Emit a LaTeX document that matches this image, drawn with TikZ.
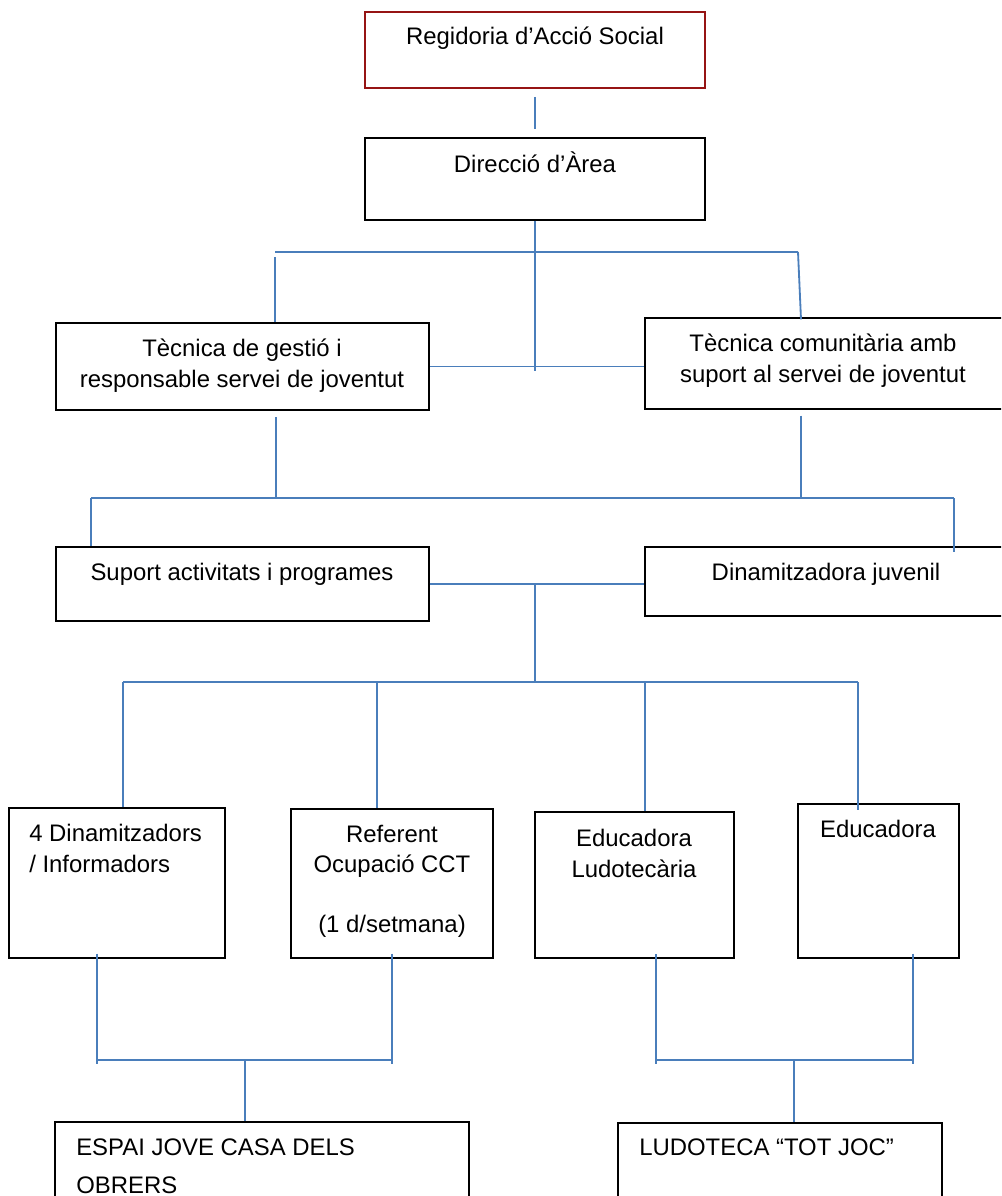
\documentclass[tikz,border=0pt]{standalone}
\usepackage{fontspec}
\setmainfont{Liberation Sans}
\usetikzlibrary{fit,calc}
\definecolor{linkblue}{RGB}{74,126,187}
\definecolor{boxred}{RGB}{150,20,20}

\begin{document}
\begin{tikzpicture}[x=0.025cm,y=-0.025cm,
    box/.style={rectangle,draw=black,line width=1pt,inner sep=0pt},
    thick box/.style={box,line width=2pt},
    link/.style={draw=linkblue,line width=1.3pt},
    lbl/.style={font=\fontsize{17}{21.5}\selectfont,inner sep=0pt,anchor=base,align=center}]
    \useasboundingbox (0,0) rectangle (1001,1196);
    \clip (0,0) rectangle (1001,1196);

    % boxes
    \node[box,draw=boxred,line width=1.3pt,fit={(365,12) (705,88)}] (regidoria) {};
    \node[box,fit={(365,138) (705,220)}] (direccio) {};
    \node[thick box,fit={(56,323) (429,410)}] (gestio) {};
    \node[box,fit={(645,318) (1010,409)}] (comunitaria) {};
    \node[box,fit={(56,547) (429,621)}] (suport) {};
    \node[thick box,fit={(645,547) (1010,616)}] (dinamitzadora) {};
    \node[box,fit={(9,808) (225,958)}] (dinamitzadors) {};
    \node[box,fit={(291,809) (493,958)}] (referent) {};
    \node[thick box,fit={(535,812) (734,958)}] (ludotecaria) {};
    \node[box,fit={(798,804) (959,958)}] (educadora) {};
    \node[box,fit={(55,1122) (469,1230)}] (espai) {};
    \node[box,fit={(618,1123) (942,1230)}] (ludoteca) {};

    % texts (base = last line)
    \node[lbl] (regidoria-t) at (535,45) {Regidoria d’Acció Social};
    \node[lbl] (direccio-t) at (535,172) {Direcció d’Àrea};
    \node[lbl] (gestio-t) at (242,387) {Tècnica de gestió i\\responsable servei de joventut};
    \node[lbl] (comunitaria-t) at (823,382) {Tècnica comunitària amb\\suport al servei de joventut};
    \node[lbl] (suport-t) at (242,580) {Suport activitats i programes};
    \node[lbl] (dinamitzadora-t) at (826,580) {Dinamitzadora juvenil};
    \node[lbl,align=left,anchor=base west] (dinamitzadors-t) at (29,872) {4 Dinamitzadors\\/ Informadors};
    \node[lbl] (referent-t) at (392,932) {Referent\\Ocupació CCT\\[0.73cm](1 d/setmana)};
    \node[lbl] (ludotecaria-t) at (634,877) {Educadora\\Ludotecària};
    \node[lbl] (educadora-t) at (878,837) {Educadora};
    \node[lbl,align=left,anchor=base west,font=\fontsize{17}{27}\selectfont] (espai-t) at (76,1193) {ESPAI JOVE CASA DELS\\OBRERS};
    \node[lbl,anchor=base west] (ludoteca-t) at (639,1155) {LUDOTECA “TOT JOC”};

    % junctions
    \coordinate (busA-l) at (275,252);
    \coordinate (busA-r) at (798,252);
    \coordinate (busB-l) at (91,498);
    \coordinate (busB-g) at (276,498);
    \coordinate (busB-m) at (801,498);
    \coordinate (busB-r) at (954,498);
    \coordinate (busC) at (535,682);
    \coordinate (busC-a) at (123,682);
    \coordinate (busC-b) at (377,682);
    \coordinate (busC-c) at (645,682);
    \coordinate (busC-d) at (858,682);
    \coordinate (busD-l) at (97,1060);
    \coordinate (busD) at (245,1060);
    \coordinate (busD-r) at (392,1060);
    \coordinate (busE-l) at (656,1060);
    \coordinate (busE) at (794,1060);
    \coordinate (busE-r) at (913,1060);

    % connectors
    \draw[link,shorten <=0.2cm,shorten >=0.2cm] (regidoria) -- (direccio);
    \draw[link] (direccio) -- ($(direccio.south |- gestio.east)+(0,4)$);
    \draw[link] (busA-l) -- (busA-r);
    \draw[link] ($(busA-l)+(0,5)$) -- (busA-l |- gestio.north);
    \draw[link] (busA-r) -- ($(busA-r |- comunitaria.north)+(3,2)$);
    \draw[link] (gestio.east) -- (comunitaria.west |- gestio.east);

    \draw[link] ($(gestio.south -| busB-g)+(0,6)$) -- (busB-g);
    \draw[link] ($(comunitaria.south -| busB-m)+(0,6)$) -- (busB-m);
    \draw[link] (busB-l) -- (busB-r);
    \draw[link] (busB-l) -- (busB-l |- suport.north);
    \draw[link] (busB-r) -- ($(busB-r |- dinamitzadora.north)+(0,6)$);

    \draw[link] (suport.east) -- (dinamitzadora.west |- suport.east);
    \draw[link] (suport.east -| busC) -- (busC);
    \draw[link] (busC-a) -- (busC-d);
    \foreach \n/\b in {a/dinamitzadors,b/referent,c/ludotecaria}
        \draw[link] (busC-\n) -- (busC-\n |- \b.north);
    \draw[link] (busC-d) -- ($(busC-d |- educadora.north)+(0,7)$);

    \draw[link] ($(busD-l |- dinamitzadors.south)+(0,-5)$) -- ($(busD-l)+(0,4)$);
    \draw[link] ($(busD-r |- referent.south)+(0,-5)$) -- ($(busD-r)+(0,4)$);
    \draw[link] (busD-l) -- (busD-r);
    \draw[link] (busD) -- (busD |- espai.north);

    \draw[link] ($(busE-l |- ludotecaria.south)+(0,-5)$) -- ($(busE-l)+(0,4)$);
    \draw[link] ($(busE-r |- educadora.south)+(0,-5)$) -- ($(busE-r)+(0,4)$);
    \draw[link] (busE-l) -- (busE-r);
    \draw[link] (busE) -- (busE |- ludoteca.north);
\end{tikzpicture}
\end{document}
